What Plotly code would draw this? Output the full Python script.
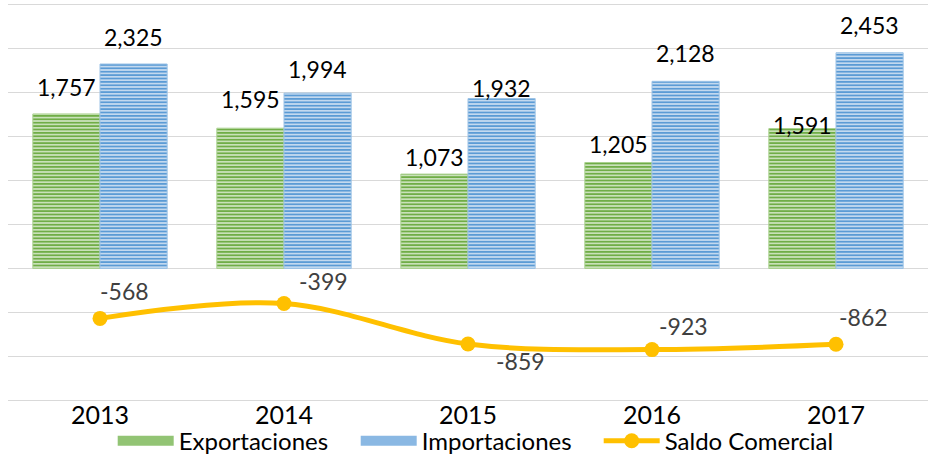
import plotly.graph_objects as go

years = ["2013", "2014", "2015", "2016", "2017"]
exportaciones = [1757, 1595, 1073, 1205, 1591]
importaciones = [2325, 1994, 1932, 2128, 2453]
saldo = [-568, -399, -859, -923, -862]

# label offsets (style only, in px)
exp_lab_dy = [27, 29, 17, 18, 4]
imp_lab_dy = [27, 24, 11, 28, 28]
saldo_lab_dx = [24, 39, 52, 31, 27]
saldo_lab_dy = [27, 23, -17, 24, 27]

FONT = "Lato"
GREEN, GREEN_L = "#70ad47", "#d3e7c6"
BLUE, BLUE_L = "#5b9bd5", "#cfe0f2"
GOLD = "#ffc000"

fig = go.Figure()
fig.add_trace(go.Bar(
    x=years, y=exportaciones, name="Exportaciones", showlegend=False,
    marker=dict(color=GREEN, line=dict(color="#a9d18e", width=1),
                pattern=dict(shape="-", fgcolor=GREEN, bgcolor=GREEN_L,
                             size=3.4, solidity=0.55, fillmode="replace")),
))
fig.add_trace(go.Bar(
    x=years, y=importaciones, name="Importaciones", showlegend=False,
    marker=dict(color=BLUE, line=dict(color="#9dc3e6", width=1),
                pattern=dict(shape="-", fgcolor=BLUE, bgcolor=BLUE_L,
                             size=3.4, solidity=0.55, fillmode="replace")),
))
# legend swatches (wide, like the original legend keys)
fig.add_trace(go.Scatter(x=[None], y=[None], name="Exportaciones", mode="lines",
                         line=dict(color="#92c474", width=12)))
fig.add_trace(go.Scatter(x=[None], y=[None], name="Importaciones", mode="lines",
                         line=dict(color="#8ab8e3", width=12)))
fig.add_trace(go.Scatter(
    x=years, y=saldo, name="Saldo Comercial", mode="lines+markers",
    line=dict(color=GOLD, width=5, shape="spline", smoothing=1.0),
    marker=dict(color=GOLD, size=15),
))

ann = []
for i, y in enumerate(years):
    ann.append(dict(x=i, y=exportaciones[i], text=f"{exportaciones[i]:,}",
                    xshift=-33.5, yshift=exp_lab_dy[i], showarrow=False,
                    xanchor="center", yanchor="middle",
                    font=dict(family=FONT, size=23, color="#000000")))
    ann.append(dict(x=i, y=importaciones[i], text=f"{importaciones[i]:,}",
                    xshift=33.5, yshift=imp_lab_dy[i], showarrow=False,
                    xanchor="center", yanchor="middle",
                    font=dict(family=FONT, size=23, color="#000000")))
    ann.append(dict(x=i, y=saldo[i], text=f"{saldo[i]}",
                    xshift=saldo_lab_dx[i], yshift=saldo_lab_dy[i], showarrow=False,
                    xanchor="center", yanchor="middle",
                    font=dict(family=FONT, size=23, color="#404040")))

fig.update_layout(
    width=928, height=459,
    margin=dict(l=8, r=0, t=2, b=56, autoexpand=False),
    paper_bgcolor="white", plot_bgcolor="white",
    barmode="group", bargap=0.27, bargroupgap=0,
    font=dict(family=FONT, color="#000000"),
    annotations=ann,
    showlegend=True,
    legend=dict(orientation="h", x=0.51, xanchor="center",
                yref="container", y=0.088, yanchor="top",
                font=dict(family=FONT, size=24, color="#000000"),
                itemwidth=56, entrywidth=172, tracegroupgap=0,
                bgcolor="rgba(0,0,0,0)"),
    xaxis=dict(type="category", range=[-0.5, len(years) - 0.5], automargin=False,
               showgrid=False, zeroline=False, showline=False, ticklabelstandoff=-5,
               ticks="", tickfont=dict(family=FONT, size=25, color="#000000")),
    yaxis=dict(range=[-1530, 3030], dtick=500, tick0=0, showticklabels=False,
               automargin=False,
               showgrid=True, gridcolor="#d9d9d9", gridwidth=1.3,
               zeroline=True, zerolinecolor="#d9d9d9", zerolinewidth=1.3,
               showline=False, ticks=""),
)

fig.write_html("out.html", config={"displayModeBar": False},
               post_script="document.body.style.margin='0px';")
